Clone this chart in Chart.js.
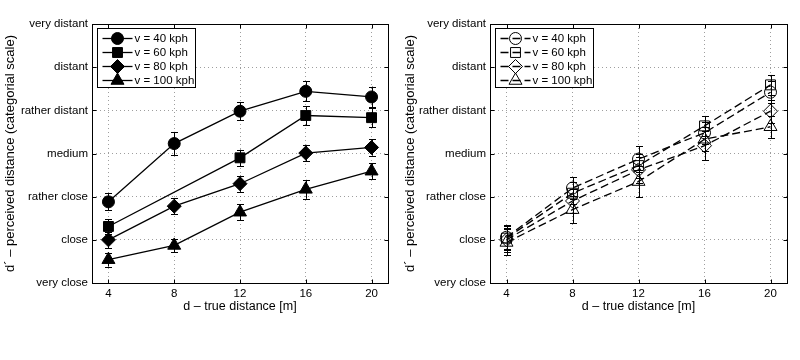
<!DOCTYPE html>
<html><head><meta charset="utf-8">
<script src="https://cdn.jsdelivr.net/npm/chart.js@4"></script>
<style>
html,body{margin:0;padding:0;background:#fff;}
#wrap{position:relative;width:800px;height:360px;background:#fff;}
.box{position:absolute;top:0;width:400px;height:360px;}
</style></head><body>
<div id="wrap">
<div class="box" style="left:0"><canvas id="c1" width="400" height="360"></canvas></div>
<div class="box" style="left:400px"><canvas id="c2" width="400" height="360"></canvas></div>
</div>
<script>
// ---- data ----
const distances = [4, 8, 12, 16, 20];
const yTickLabels = ['very close', 'close', 'rather close', 'medium', 'rather distant', 'distant', 'very distant'];
const seriesNames = ['v = 40 kph', 'v = 60 kph', 'v = 80 kph', 'v = 100 kph'];
const xTitle = 'd \u2013 true distance [m]';
const yTitle = 'd\u00b4 \u2013 perceived distance (categorial scale)';

// left panel (means, scale: 0 = very close ... 6 = very distant)
const left40 = [1.88, 3.23, 3.98, 4.44, 4.31];
const left60 = [1.31, null, 2.90, 3.88, 3.83];
const left80 = [1.00, 1.78, 2.30, 3.01, 3.14];
const left100 = [0.54, 0.87, 1.64, 2.17, 2.59];
const left40Err = [0.20, 0.27, 0.21, 0.23, 0.24];
const left60Err = [0.17, null, 0.19, 0.22, 0.22];
const left80Err = [0.19, 0.19, 0.19, 0.19, 0.19];
const left100Err = [0.16, 0.16, 0.19, 0.22, 0.19];

// right panel
const right40 = [1.06, 2.20, 2.87, 3.48, 4.42];
const right60 = [1.04, 2.08, 2.72, 3.64, 4.59];
const right80 = [1.00, 1.90, 2.62, 3.18, 3.98];
const right100 = [0.94, 1.70, 2.35, 3.33, 3.62];
const right40Err = [0.28, 0.25, 0.30, 0.25, 0.25];
const right60Err = [0.27, 0.25, 0.28, 0.23, 0.23];
const right80Err = [0.28, 0.28, 0.30, 0.33, 0.27];
const right100Err = [0.30, 0.31, 0.36, 0.28, 0.26];

// ---- styling ----
const FONT = '"Liberation Sans", Arial, Helvetica, sans-serif';
const FSIZE = 11.5;
const markerStyles = ['circle', 'rect', 'rectRot', 'triangle'];
const markerRadius = [6, 7, 7, 7.5];

function makeDatasets(values, errs, dashed) {
  return values.map((vals, i) => ({
    label: seriesNames[i],
    data: distances.map((d, j) => ({x: d, y: vals[j]})),
    errors: errs[i],
    borderColor: '#000',
    backgroundColor: dashed ? 'rgba(0,0,0,0)' : '#000',
    borderWidth: 1.3,
    borderDash: dashed ? [8, 4] : [],
    pointStyle: markerStyles[i],
    pointRadius: markerRadius[i],
    pointBorderColor: '#000',
    pointBackgroundColor: dashed ? 'rgba(0,0,0,0)' : '#000',
    pointBorderWidth: 1,
    spanGaps: true,
    tension: 0
  }));
}

const errorBarPlugin = {
  id: 'errorBars',
  afterDatasetsDraw(chart) {
    const ctx = chart.ctx, ys = chart.scales.y;
    ctx.save();
    ctx.strokeStyle = '#000';
    ctx.lineWidth = 1;
    ctx.setLineDash([]);
    chart.data.datasets.forEach((ds, i) => {
      const meta = chart.getDatasetMeta(i);
      meta.data.forEach((pt, j) => {
        const v = ds.data[j].y, e = ds.errors[j];
        if (v == null || e == null) return;
        const x = Math.round(pt.x) + 0.5;
        const yt = ys.getPixelForValue(v + e), yb = ys.getPixelForValue(v - e);
        ctx.beginPath();
        ctx.moveTo(x, yt); ctx.lineTo(x, yb);
        ctx.moveTo(x - 3.5, Math.round(yt) + 0.5); ctx.lineTo(x + 3.5, Math.round(yt) + 0.5);
        ctx.moveTo(x - 3.5, Math.round(yb) + 0.5); ctx.lineTo(x + 3.5, Math.round(yb) + 0.5);
        ctx.stroke();
      });
    });
    ctx.restore();
  }
};

const framePlugin = {
  id: 'frameAndLegend',
  afterDraw(chart) {
    const ctx = chart.ctx, a = chart.chartArea;
    const xs = chart.scales.x, ys = chart.scales.y;
    ctx.save();
    ctx.setLineDash([]);
    ctx.strokeStyle = '#000';
    ctx.lineWidth = 1;
    const L = Math.round(a.left) + 0.5, R = Math.round(a.right) + 0.5;
    const T = Math.round(a.top) + 0.5, B = Math.round(a.bottom) + 0.5;
    ctx.strokeRect(L, T, R - L, B - T);
    // inward ticks
    ctx.beginPath();
    xs.ticks.forEach(t => {
      const x = Math.round(xs.getPixelForValue(t.value)) + 0.5;
      ctx.moveTo(x, B); ctx.lineTo(x, B - 4);
      ctx.moveTo(x, T); ctx.lineTo(x, T + 4);
    });
    ys.ticks.forEach(t => {
      const y = Math.round(ys.getPixelForValue(t.value)) + 0.5;
      ctx.moveTo(L, y); ctx.lineTo(L + 4, y);
      ctx.moveTo(R, y); ctx.lineTo(R - 4, y);
    });
    ctx.stroke();

    // legend box
    const bx = L + 5, by = T + 4, bw = 98, bh = 59;
    ctx.fillStyle = '#fff';
    ctx.fillRect(bx, by, bw, bh);
    ctx.strokeRect(bx, by, bw, bh);
    ctx.font = FSIZE + 'px ' + FONT;
    ctx.textBaseline = 'middle';
    ctx.textAlign = 'left';
    chart.data.datasets.forEach((ds, i) => {
      const cy = Math.round(by + 9 + i * 14) + 0.5;
      ctx.strokeStyle = '#000';
      ctx.lineWidth = 1.3;
      ctx.setLineDash(ds.borderDash);
      ctx.beginPath();
      ctx.moveTo(bx + 5, cy); ctx.lineTo(bx + 35, cy);
      ctx.stroke();
      ctx.setLineDash([]);
      ctx.lineWidth = 1;
      ctx.fillStyle = ds.pointBackgroundColor;
      Chart.helpers.drawPoint(ctx, {pointStyle: ds.pointStyle, radius: ds.pointRadius, borderWidth: 1, rotation: 0}, bx + 20, cy);
      ctx.fillStyle = '#000';
      ctx.fillText(ds.label, bx + 37, cy + 0.5);
    });
    ctx.restore();
  }
};

function makeChart(id, datasets, yWidth, padRight) {
  return new Chart(document.getElementById(id), {
    type: 'line',
    data: {datasets},
    options: {
      responsive: false,
      animation: false,
      devicePixelRatio: 1,
      layout: {padding: {left: 0, top: 24, right: padRight, bottom: 43}},
      plugins: {legend: {display: false}, tooltip: {enabled: false}},
      scales: {
        x: {
          type: 'linear', min: 3, max: 21,
          afterBuildTicks: s => { s.ticks = distances.map(v => ({value: v})); },
          afterFit: s => { s.height = 34; },
          ticks: {color: '#000', padding: 4, font: {family: FONT, size: FSIZE}, maxRotation: 0, callback: v => String(v)},
          grid: {color: 'rgba(0,0,0,0.38)', lineWidth: 1, drawTicks: false},
          border: {display: false, dash: [1, 3]},
          title: {display: true, text: xTitle, color: '#000', font: {family: FONT, size: 12.5}, padding: {top: 2, bottom: 3}}
        },
        y: {
          type: 'linear', min: 0, max: 6,
          afterBuildTicks: s => { s.ticks = yTickLabels.map((_, i) => ({value: i})); },
          afterFit: s => { s.width = yWidth; },
          ticks: {color: '#000', padding: 4, font: {family: FONT, size: FSIZE}, callback: v => yTickLabels[v]},
          grid: {color: 'rgba(0,0,0,0.38)', lineWidth: 1, drawTicks: false},
          border: {display: false, dash: [1, 3]},
          title: {display: true, text: yTitle, color: '#000', font: {family: FONT, size: 13}, padding: {top: 3, bottom: 4}}
        }
      }
    },
    plugins: [errorBarPlugin, framePlugin]
  });
}

makeChart('c1', makeDatasets([left40, left60, left80, left100], [left40Err, left60Err, left80Err, left100Err], false), 92, 12);
makeChart('c2', makeDatasets([right40, right60, right80, right100], [right40Err, right60Err, right80Err, right100Err], true), 90, 13);
</script>
</body></html>
